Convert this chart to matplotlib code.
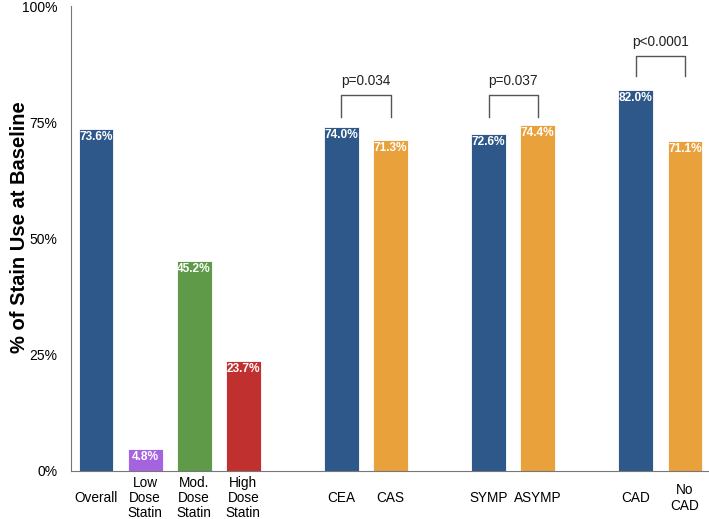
import matplotlib
matplotlib.use("Agg")
import matplotlib.pyplot as plt

plt.rcParams['font.family'] = ['Liberation Sans', 'DejaVu Sans']

categories = ["Overall", "Low\nDose\nStatin", "Mod.\nDose\nStatin", "High\nDose\nStatin",
              "CEA", "CAS", "SYMP", "ASYMP", "CAD", "No\nCAD"]
values = [73.6, 4.8, 45.2, 23.7, 74.0, 71.3, 72.6, 74.4, 82.0, 71.1]
positions = [0, 1, 2, 3, 5, 6, 8, 9, 11, 12]
blue, orange = "#2D5889", "#E9A13B"
colors = [blue, "#A563DF", "#5E9A48", "#C0302F", blue, orange, blue, orange, blue, orange]

# brackets: (left index, right index, bottom %, top %, label)
brackets = [(4, 5, 76.1, 80.9, "p=0.034"),
            (6, 7, 76.1, 80.9, "p=0.037"),
            (8, 9, 85.0, 89.3, "p<0.0001")]

fig = plt.figure(figsize=(7.09, 5.19), dpi=100)
ax = fig.add_axes([0.1002, 0.0925, 0.8998, 0.8955])

bars = ax.bar(positions, values, width=0.71, color=colors, edgecolor="white", linewidth=0.6)

for x, v in zip(positions, values):
    ax.annotate(f"{v:.1f}%", (x, v), xytext=(0, -1.5), textcoords="offset points",
                ha="center", va="top", color="white", fontweight="bold", fontsize=8.6)

for i, j, lo, hi, lab in brackets:
    x1, x2 = positions[i], positions[j]
    ax.plot([x1, x1, x2, x2], [lo, hi, hi, lo], color="#555555", lw=1.0, clip_on=False)
    ax.text((x1 + x2) / 2, hi + 1.4, lab, ha="center", va="bottom", fontsize=9.8, color="#222222")

ax.set_xlim(-0.51, 12.49)
ax.set_ylim(0, 100)
ax.set_yticks([0, 25, 50, 75, 100])
ax.set_yticklabels(["0%", "25%", "50%", "75%", "100%"], fontsize=10)
ax.set_xticks(positions)
ax.set_xticklabels(categories, fontsize=9.8, linespacing=1.12)
for lbl in ax.get_xticklabels():
    lbl.set_va("center")
ax.tick_params(axis="x", length=0, pad=19.5)
ax.tick_params(axis="y", length=0, pad=10)

for s in ["top", "right"]:
    ax.spines[s].set_visible(False)
ax.spines["left"].set_color("#777777")
ax.spines["bottom"].set_color("#777777")

ax.set_ylabel("% of Stain Use at Baseline", fontsize=14.5, fontweight="bold")
ax.yaxis.set_label_coords(-0.066, 0.525)

fig.savefig("out.png", dpi=100)
